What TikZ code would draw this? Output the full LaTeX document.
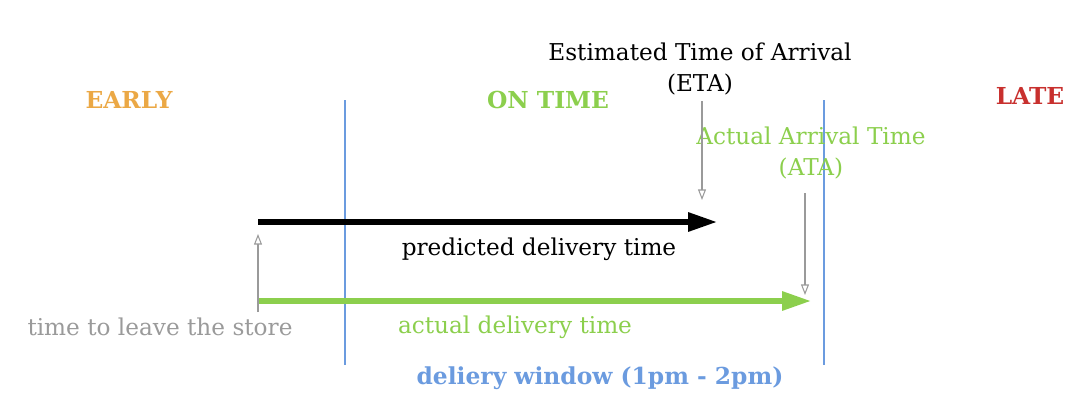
\documentclass[tikz,border=0pt]{standalone}
\usepackage{fontspec}
\setmainfont{DejaVu Serif}
\usepackage{xcolor}
\usetikzlibrary{arrows.meta,calc,positioning}
\definecolor{earlyorange}{HTML}{EBA845}
\definecolor{ontimegreen}{HTML}{8CCF4D}
\definecolor{latered}{HTML}{C8302E}
\definecolor{windowblue}{HTML}{6B9BDF}
\definecolor{markgray}{HTML}{9A9A9A}

\begin{document}
\begin{tikzpicture}[x=0.02cm,y=-0.02cm,>=Latex,
    font=\fontsize{13.2}{17.5}\selectfont,
    zone/.style={font=\fontsize{13.3}{17.5}\selectfont\bfseries},
    pointer/.style={draw=markgray,line width=0.6pt,-{Triangle[open,length=6pt,width=4.5pt]}},
    span/.style={line width=3.8pt,-{Triangle[length=17pt,width=10pt]}}]
    \useasboundingbox (0,0) rectangle (1080,406);

    % Zones of the delivery window.
    \node[zone,text=earlyorange] (early) at (129,100) {EARLY};
    \node[zone,text=ontimegreen] (ontime) at (548,100) {ON TIME};
    \node[zone,text=latered] (late) at (1030,96) {LATE};
    \foreach \xline/\name in {345/open,824/close} {
      \coordinate (\name top) at (\xline,100);
      \coordinate (\name bottom) at (\xline,365);
      \draw[windowblue,line width=1.3pt] (\name top) -- (\name bottom);
    }
    \node[zone,text=windowblue] (window) at (600,378) {deliery window (1pm - 2pm)};

    % Estimated and actual arrival.
    \node[align=center] (eta) at (700,69) {Estimated Time of Arrival\\(ETA)};
    \node[align=center,text=ontimegreen] (ata) at (811,153) {Actual Arrival Time\\(ATA)};
    \coordinate (eta tip) at (702,200);
    \coordinate (ata top) at (805,193);
    \coordinate (ata tip) at (805,295);
    \draw[pointer] (eta.south -| eta tip) -- (eta tip);
    \draw[pointer] (ata top) -- (ata tip);

    % Predicted and actual delivery spans.
    \coordinate (leave) at (258,222);
    \coordinate (predicted end) at (718,222);
    \coordinate (actual start) at (258,301);
    \coordinate (actual end) at (812,301);
    \draw[span] (leave) -- (predicted end);
    \draw[span,ontimegreen] (actual start) -- (actual end);
    \coordinate (leave low) at (258,312);
    \draw[pointer] (leave low) -- ($(leave)+(0,12)$);
    \node (predicted) at (539,249) {predicted delivery time};
    \node[text=markgray] (store) at (160,327) {time to leave the store};
    \node[text=ontimegreen] (actual) at (515,327) {actual delivery time};
\end{tikzpicture}
\end{document}
